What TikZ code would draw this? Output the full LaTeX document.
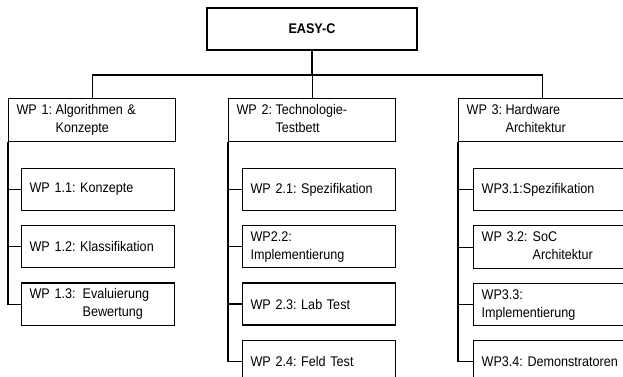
\documentclass[tikz,border=0pt]{standalone}
\usepackage{fontspec}
\setmainfont{Liberation Sans}[FakeStretch=0.9]
\usepackage{tikz}
\usetikzlibrary{positioning}
\frenchspacing
\tikzstyle{topbox} = [rectangle, draw, line width=1.2pt, minimum width=210pt,
    minimum height=42pt, font=\fontsize{14}{17}\selectfont\bfseries]
\tikzstyle{wpbox} = [rectangle, draw, line width=1.2pt, text width=151pt,
    inner xsep=8pt, minimum height=42pt, align=left]
\tikzstyle{subbox} = [rectangle, draw, line width=1.2pt, text width=137pt,
    inner xsep=8pt, minimum height=42pt, align=left]
\tikzstyle{edge} = [draw, line width=1.2pt]
\newcommand{\wphang}[4]{\makebox[#1][l]{#2}\begin{tabular}[t]{@{}l@{}}#3\\#4\end{tabular}}

\begin{document}
\begin{tikzpicture}[x=1pt, y=-1pt, node distance=14pt,
    font=\fontsize{14}{18}\selectfont]
  \clip (0,0) rectangle (623,376);
  % Place nodes
  \node [topbox] (easyc) at (312,29) {EASY-C};
  \node [wpbox, anchor=north west] (wp1) at (8,98)
    {\wphang{39pt}{WP 1:}{Algorithmen \&}{Konzepte}};
  \node [wpbox, anchor=north west] (wp2) at (228,98)
    {\wphang{39pt}{WP 2:}{Technologie-}{Testbett}};
  \node [wpbox, anchor=north west] (wp3) at (458,98)
    {\wphang{39pt}{WP 3:}{Hardware}{Architektur}};
  \node [subbox, anchor=north west] (wp11) at (21,168) {WP 1.1: Konzepte};
  \node [subbox, below=of wp11] (wp12) {WP 1.2: Klassifikation};
  \node [subbox, below=of wp12] (wp13)
    {\wphang{53pt}{WP 1.3:}{Evaluierung}{Bewertung}};
  \node [subbox, anchor=north west] (wp21) at (242,168) {WP 2.1: Spezifikation};
  \node [subbox, below=of wp21] (wp22) {WP2.2:\\Implementierung};
  \node [subbox, below=of wp22] (wp23) {WP 2.3: Lab Test};
  \node [subbox, below=of wp23] (wp24) {WP 2.4: Feld Test};
  \node [subbox, anchor=north west] (wp31) at (473,168) {WP3.1:Spezifikation};
  \node [subbox, below=of wp31] (wp32)
    {\wphang{51pt}{WP 3.2:}{SoC}{Architektur}};
  \node [subbox, below=of wp32] (wp33) {WP3.3:\\Implementierung};
  \node [subbox, below=of wp33] (wp34) {WP3.4: Demonstratoren};
  \coordinate (bus) at (0,75);
  % Draw edges
  \path[edge] (easyc.south) -- (easyc.south |- bus);
  \path[edge] (wp1.north) -- (wp1.north |- bus) -- (wp3.north |- bus) -- (wp3.north);
  \path[edge] (wp2.north) -- (wp2.north |- bus);
  \path[edge] (wp1.south west) |- (wp13.west);
  \path[edge] (wp1.south west |- wp11.west) -- (wp11.west);
  \path[edge] (wp1.south west |- wp12.west) -- (wp12.west);
  \path[edge] (wp2.south west) |- (wp24.west);
  \path[edge] (wp2.south west |- wp21.west) -- (wp21.west);
  \path[edge] (wp2.south west |- wp22.west) -- (wp22.west);
  \path[edge] (wp2.south west |- wp23.west) -- (wp23.west);
  \path[edge] (wp3.south west) |- (wp34.west);
  \path[edge] (wp3.south west |- wp31.west) -- (wp31.west);
  \path[edge] (wp3.south west |- wp32.west) -- (wp32.west);
  \path[edge] (wp3.south west |- wp33.west) -- (wp33.west);

\end{tikzpicture}
\end{document}
